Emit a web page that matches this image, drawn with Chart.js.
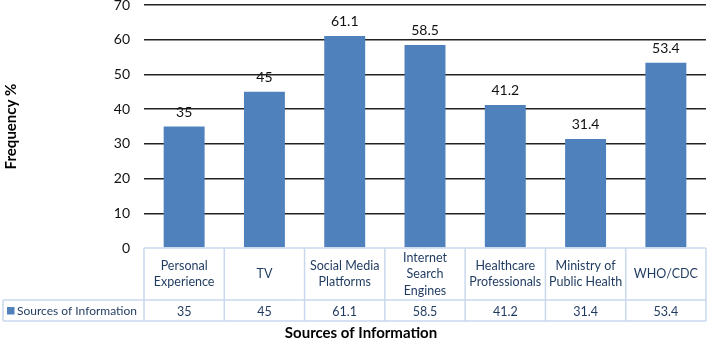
<!DOCTYPE html>
<html>
<head>
<meta charset="utf-8">
<script src="https://cdn.jsdelivr.net/npm/chart.js@4"></script>
<style>
  html, body { margin: 0; padding: 0; background: #fff; }
</style>
</head>
<body>
<canvas id="myChart" width="709" height="343"></canvas>
<script>
const categories = [
  ['Personal', 'Experience'],
  ['TV'],
  ['Social Media', 'Platforms'],
  ['Internet', 'Search', 'Engines'],
  ['Healthcare', 'Professionals'],
  ['Ministry of', 'Public Health'],
  ['WHO/CDC']
];
const values = [35, 45, 61.1, 58.5, 41.2, 31.4, 53.4];
const valueLabels = ['35', '45', '61.1', '58.5', '41.2', '31.4', '53.4'];
const seriesName = 'Sources of Information';
const yTitle = 'Frequency %';
const xTitle = 'Sources of Information';
const yMin = 0, yMax = 70, yStep = 10;

const FONT = 'Lato, "Open Sans", sans-serif';
const BAR = '#4f81bd';
const TABLE_LINE = '#c9d8ec';
const TABLE_TEXT = '#1f3a5f';

// value labels above each bar
const barLabels = {
  id: 'barLabels',
  afterDatasetsDraw(chart) {
    const ctx = chart.ctx;
    const meta = chart.getDatasetMeta(0);
    ctx.save();
    ctx.font = '14px ' + FONT;
    ctx.fillStyle = '#111';
    ctx.textAlign = 'center';
    ctx.textBaseline = 'middle';
    meta.data.forEach((bar, i) => {
      ctx.fillText(valueLabels[i], bar.x, bar.y - 14.5);
    });
    ctx.restore();
  }
};

// excel style data table under the plot
const dataTable = {
  id: 'dataTable',
  afterDraw(chart) {
    const ctx = chart.ctx;
    const area = chart.chartArea;
    const x = chart.scales.x;
    const colW = (area.right - area.left) / categories.length;
    const top = area.bottom;
    const mid = top + 52;
    const bot = mid + 21;
    const legLeft = 3;

    ctx.save();
    ctx.strokeStyle = TABLE_LINE;
    ctx.lineWidth = 1.5;
    const line = (x1, y1, x2, y2) => {
      ctx.beginPath(); ctx.moveTo(x1, y1); ctx.lineTo(x2, y2); ctx.stroke();
    };
    line(area.left, top, area.right, top);
    line(legLeft, mid, area.right, mid);
    line(legLeft, bot, area.right, bot);
    line(legLeft, mid, legLeft, bot);
    categories.forEach((c, i) => {
      const cx = x.getPixelForValue(i);
      line(cx - colW / 2, top, cx - colW / 2, bot);
    });
    line(area.right, top, area.right, bot);

    ctx.fillStyle = TABLE_TEXT;
    ctx.font = '12.5px ' + FONT;
    ctx.textAlign = 'center';
    ctx.textBaseline = 'middle';
    const lh = 16.5;
    categories.forEach((lines, i) => {
      const cx = x.getPixelForValue(i);
      const y0 = (top + mid) / 2 - (lines.length - 1) * lh / 2;
      lines.forEach((t, k) => ctx.fillText(t, cx, y0 + k * lh));
      ctx.fillText(valueLabels[i], cx, (mid + bot) / 2 + 1);
    });

    // legend cell
    ctx.fillStyle = BAR;
    ctx.fillRect(7, (mid + bot) / 2 - 3.5, 7.5, 7.5);
    ctx.fillStyle = TABLE_TEXT;
    ctx.textAlign = 'left';
    ctx.font = '12px ' + FONT;
    ctx.fillText(seriesName, 17, (mid + bot) / 2 + 1);

    // x axis title
    ctx.fillStyle = '#000';
    ctx.font = 'bold 15px ' + FONT;
    ctx.textAlign = 'center';
    ctx.fillText(xTitle, 361, 333);
    ctx.restore();
  }
};

new Chart(document.getElementById('myChart'), {
  type: 'bar',
  data: {
    labels: categories,
    datasets: [{
      label: seriesName,
      data: values,
      backgroundColor: BAR,
      borderWidth: 0,
      categoryPercentage: 1,
      barPercentage: 0.51
    }]
  },
  options: {
    responsive: false,
    animation: false,
    layout: { padding: { top: 5, bottom: 95, right: 3, left: 0 } },
    plugins: {
      legend: { display: false },
      tooltip: { enabled: false }
    },
    scales: {
      x: { display: false },
      y: {
        min: yMin,
        max: yMax,
        ticks: {
          stepSize: yStep,
          color: '#111',
          padding: 14,
          font: { family: FONT, size: 14 }
        },
        grid: {
          drawTicks: false,
          lineWidth: 1.5,
          color: ctx => ctx.tick && ctx.tick.value === 0 ? 'rgba(0,0,0,0)' : '#222'
        },
        border: { display: false },
        title: {
          display: true,
          text: yTitle,
          color: '#000',
          font: { family: FONT, size: 15, weight: 'bold' },
          padding: { top: 2, bottom: 0 }
        },
        afterFit(scale) {
          scale.width = 144;
          scale.paddingTop = 0;
          scale.paddingBottom = 0;
        }
      }
    }
  },
  plugins: [barLabels, dataTable]
});
</script>
</body>
</html>
